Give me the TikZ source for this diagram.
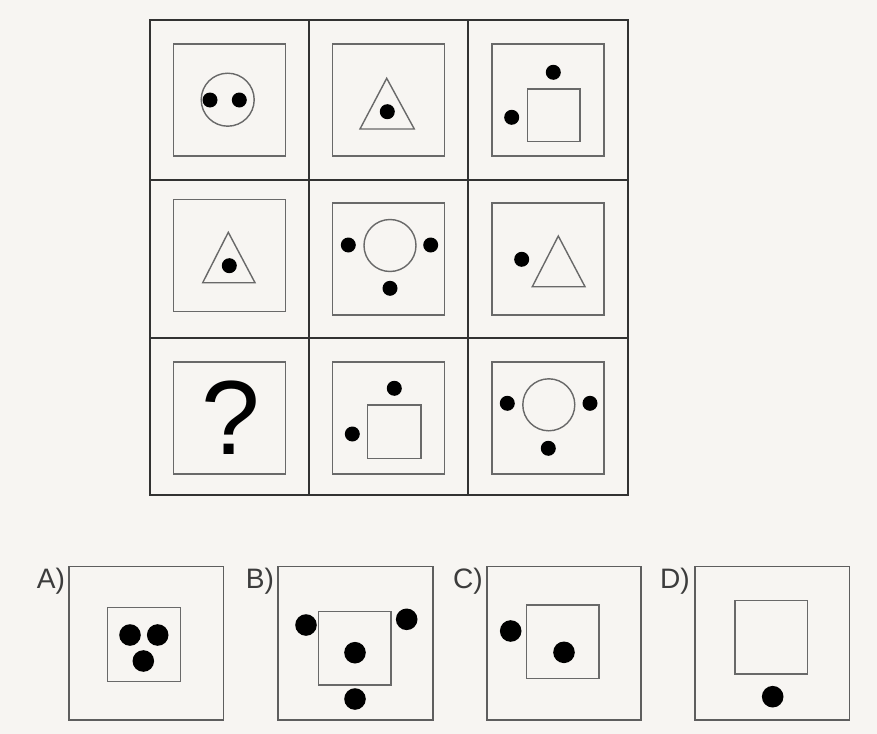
\documentclass[tikz,border=0pt]{standalone}
\usepackage{fontspec}
\setmainfont{Liberation Sans}
\definecolor{paper}{RGB}{247,245,242}
\definecolor{frame}{RGB}{50,50,50}
\definecolor{thin}{RGB}{105,105,105}
\definecolor{label}{RGB}{60,60,60}

\begin{document}
\begin{tikzpicture}[x=0.02cm,y=-0.02cm]
    \tikzstyle{gridline}=[draw=frame,line width=1pt]
    \tikzstyle{innersq}=[draw=thin,line width=0.7pt]
    \tikzstyle{figline}=[draw=thin,line width=0.8pt]
    \tikzstyle{optbox}=[draw=thin!90!black,line width=1.1pt]
    \tikzstyle{blackdot}=[fill=black]
    \tikzstyle{optlabel}=[text=label,font=\fontsize{16}{16}\selectfont,inner sep=0pt]

    \fill[paper] (0,0) rectangle (877,734);
    \useasboundingbox (0,0) rectangle (877,734);

    % the 3x3 grid
    \draw[gridline,line width=1.2pt] (150,20) rectangle (628,495);
    \foreach \x in {309,468}
        \draw[gridline] (\x,20) -- (\x,495);
    \foreach \y in {180,338}
        \draw[gridline] (150,\y) -- (628,\y);

    \foreach \cx/\cy in {229.5/100, 388.8/100, 548/100,
                         229.5/255.5, 388.8/259, 548/259,
                         229.5/418, 388.8/418, 548/418}
        \draw[innersq] (\cx-56,\cy-56) rectangle (\cx+56,\cy+56);

    % row 1
    \draw[figline] (227.7,99.7) circle[radius=26.5];
    \foreach \x in {210,239.3}
        \fill[blackdot] (\x,100) circle[radius=7.5];
    \draw[figline] (386.7,78.3) -- (360,129) -- (414.3,129) -- cycle;
    \fill[blackdot] (387.3,111.7) circle[radius=7.5];
    \draw[figline] (527.3,89) rectangle (580,141.7);
    \fill[blackdot] (553.3,72.3) circle[radius=7.5];
    \fill[blackdot] (511.7,117.3) circle[radius=7.5];

    % row 2
    \draw[figline] (228.3,232.3) -- (202.7,282.7) -- (255,282.7) -- cycle;
    \fill[blackdot] (229.3,265.7) circle[radius=7.5];
    \draw[figline] (390,245.5) circle[radius=26];
    \foreach \x/\y in {348.3/245, 430.7/245, 390/288.3}
        \fill[blackdot] (\x,\y) circle[radius=7.5];
    \draw[figline] (558.3,236) -- (532.3,286.7) -- (585,286.7) -- cycle;
    \fill[blackdot] (521.7,259.3) circle[radius=7.5];

    % row 3
    \node[inner sep=0pt,font=\fontsize{60}{60}\selectfont] (Q) at (230.7,418) {?};
    \draw[figline] (367.7,405) rectangle (421,458.3);
    \fill[blackdot] (394.3,388.3) circle[radius=7.5];
    \fill[blackdot] (352.3,434) circle[radius=7.5];
    \draw[figline] (548.8,404.8) circle[radius=26];
    \foreach \x/\y in {507.3/403.3, 590/403.3, 548.3/448.3}
        \fill[blackdot] (\x,\y) circle[radius=7.5];

    % answer options
    \foreach \name/\lx/\bx in {A/51/69, B/260/278.3, C/468/486.7, D/675/695}
    {
        \node[optlabel] (L-\name) at (\lx,581) {\name)};
        \draw[optbox] (\bx,566.5) rectangle (\bx+154.5,720);
    }
    \draw[innersq] (107.3,607.3) rectangle (180.7,681.7);
    \draw[innersq] (318.3,611.7) rectangle (391,685);
    \draw[innersq] (526.7,605) rectangle (599,678.3);
    \draw[innersq] (735,600.7) rectangle (807.7,674);

    \foreach \x/\y in {130/635, 157.7/635, 143.3/661,
                       306/625, 406.7/619.3, 355/652.7, 355/699,
                       510.7/631, 564/652.3,
                       772.7/696.7}
        \fill[blackdot] (\x,\y) circle[radius=10.8];
\end{tikzpicture}
\end{document}
